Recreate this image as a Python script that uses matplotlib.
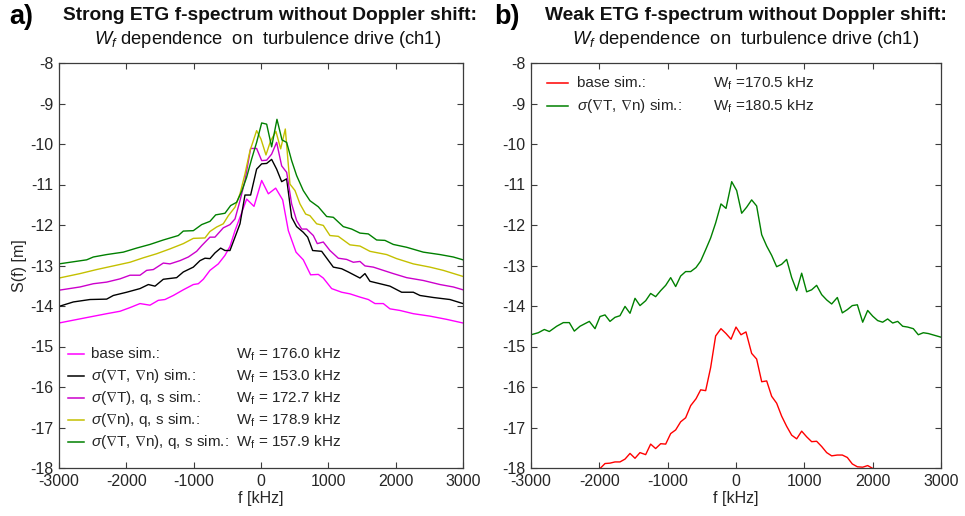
import matplotlib
matplotlib.use("Agg")
import matplotlib.pyplot as plt

plt.rcParams['font.family'] = ['Liberation Sans', 'DejaVu Sans']
plt.rcParams['mathtext.fontset'] = 'custom'
plt.rcParams['mathtext.rm'] = 'Liberation Sans'
plt.rcParams['mathtext.it'] = 'Liberation Sans:italic'
plt.rcParams['mathtext.bf'] = 'Liberation Sans:bold'
plt.rcParams['mathtext.fallback'] = 'stixsans'
plt.rcParams['axes.unicode_minus'] = False

# ---- panel a) strong ETG spectra ----
f_base = [-3000, -2787, -2540, -2292, -2094, -1946, -1797, -1649, -1525, -1426, -1302, -1154,
          -1005, -931, -857, -758, -634, -535, -461, -386, -312, -213, -104, 10, 109, 218, 322,
          406, 520, 628, 737, 851, 925, 1049, 1198, 1321, 1470, 1594, 1693, 1816, 1915, 2064,
          2262, 2509, 2757, 3000]
s_base = [-14.42, -14.35, -14.27, -14.19, -14.13, -14.04, -13.94, -13.98, -13.86, -13.84, -13.74,
          -13.60, -13.47, -13.45, -13.34, -13.12, -12.96, -12.75, -12.53, -12.14, -11.81, -11.36,
          -11.54, -10.90, -11.23, -11.09, -11.38, -12.14, -12.67, -12.86, -13.23, -13.22, -13.31,
          -13.57, -13.66, -13.70, -13.78, -13.84, -13.94, -13.94, -14.07, -14.11, -14.19, -14.25,
          -14.33, -14.42]

f_sig_tn = [-3000, -2787, -2540, -2292, -2193, -1995, -1797, -1673, -1574, -1451, -1253, -1154,
            -1005, -906, -832, -758, -684, -599, -535, -461, -386, -312, -238, -154, -65, 10, 84,
            158, 232, 307, 381, 455, 529, 628, 693, 767, 901, 1074, 1198, 1297, 1470, 1544, 1618,
            1767, 1915, 2089, 2262, 2361, 2559, 2806, 3000]
s_sig_tn = [-14.01, -13.90, -13.84, -13.83, -13.74, -13.66, -13.57, -13.47, -13.51, -13.34, -13.30,
            -13.16, -13.04, -12.88, -12.82, -12.83, -12.69, -12.57, -12.63, -12.63, -12.30, -11.97,
            -11.26, -11.26, -10.62, -10.49, -10.48, -10.38, -10.62, -10.93, -10.86, -11.81, -12.04,
            -12.18, -12.30, -12.63, -12.65, -13.04, -13.08, -13.16, -13.31, -13.20, -13.39, -13.45,
            -13.51, -13.66, -13.66, -13.74, -13.79, -13.84, -13.94]

f_sig_t_qs = [-3000, -2688, -2490, -2292, -2094, -1946, -1797, -1698, -1599, -1451, -1352, -1203,
              -1079, -956, -881, -758, -684, -560, -461, -386, -312, -238, -154, -65, 10, 84, 158,
              232, 307, 381, 455, 529, 604, 678, 777, 836, 925, 1024, 1148, 1272, 1371, 1470, 1544,
              1668, 1816, 1965, 2163, 2410, 2658, 2856, 3000]
s_sig_t_qs = [-13.61, -13.53, -13.45, -13.41, -13.33, -13.24, -13.24, -13.12, -13.10, -12.94, -12.96,
              -12.88, -12.79, -12.65, -12.51, -12.30, -12.30, -12.07, -11.99, -11.85, -11.40, -10.90,
              -10.11, -10.11, -10.41, -10.40, -10.25, -9.96, -10.54, -10.70, -11.48, -11.89, -12.10,
              -12.10, -12.26, -12.46, -12.42, -12.63, -12.82, -12.85, -12.92, -12.90, -13.01, -13.04,
              -13.12, -13.20, -13.30, -13.37, -13.47, -13.53, -13.60]

f_sig_n_qs = [-3000, -2688, -2441, -2193, -1946, -1748, -1550, -1352, -1154, -1005, -832, -758,
              -659, -560, -485, -386, -312, -238, -164, -65, 0, 74, 143, 222, 292, 361, 430, 505,
              579, 663, 727, 826, 925, 1024, 1148, 1321, 1470, 1618, 1866, 2014, 2262, 2509, 2707,
              3000]
s_sig_n_qs = [-13.31, -13.20, -13.10, -13.01, -12.92, -12.81, -12.71, -12.59, -12.46, -12.33, -12.32,
              -12.16, -12.05, -11.97, -11.77, -11.56, -11.23, -10.74, -10.17, -9.67, -9.88, -10.27,
              -9.92, -9.69, -10.12, -9.63, -10.99, -11.15, -11.48, -11.73, -11.77, -11.97, -12.01,
              -12.26, -12.28, -12.49, -12.52, -12.65, -12.73, -12.83, -12.96, -13.04, -13.12, -13.27]

f_sig_tn_qs = [-3000, -2589, -2490, -2292, -2045, -1847, -1649, -1451, -1228, -1154, -1005, -881,
               -758, -673, -535, -451, -362, -287, -213, -139, -65, 10, 84, 158, 237, 312, 381, 455,
               529, 628, 727, 851, 975, 1074, 1222, 1346, 1470, 1594, 1717, 1841, 1965, 2163, 2410,
               2658, 2856, 3000]
s_sig_tn_qs = [-12.96, -12.86, -12.79, -12.73, -12.67, -12.57, -12.48, -12.37, -12.26, -12.15, -12.14,
               -11.99, -11.91, -11.75, -11.71, -11.52, -11.44, -11.17, -10.82, -10.37, -9.96, -9.48,
               -9.51, -10.07, -9.39, -9.90, -9.96, -10.41, -10.78, -11.15, -11.40, -11.55, -11.79,
               -11.81, -12.04, -12.10, -12.20, -12.22, -12.37, -12.38, -12.48, -12.55, -12.67, -12.73,
               -12.79, -12.86]

labels_a = ["base sim.:", r"$\sigma$($\nabla$T, $\nabla$n) sim.:", r"$\sigma$($\nabla$T), q, s sim.:",
            r"$\sigma$($\nabla$n), q, s sim.:", r"$\sigma$($\nabla$T, $\nabla$n), q, s sim.:"]
wf_a = [176.0, 153.0, 172.7, 178.9, 157.9]
colors_a = ["#ff00ff", "#000000", "#cc00cc", "#c4c000", "#008000"]

# ---- panel b) weak ETG spectra ----
f_weak_base = [-2000, -1917, -1844, -1771, -1698, -1624, -1551, -1478, -1405, -1322, -1249, -1176,
               -1102, -1029, -956, -883, -810, -737, -663, -585, -517, -444, -371, -298, -220, -146,
               -73, 0, 73, 146, 229, 302, 376, 449, 522, 595, 668, 741, 815, 888, 961, 1034, 1107,
               1180, 1254, 1327, 1400, 1483, 1556, 1629, 1702, 1776, 1854, 1927, 2000]
s_weak_base = [-18.03, -17.89, -17.88, -17.85, -17.85, -17.78, -17.64, -17.76, -17.62, -17.67, -17.41,
               -17.52, -17.40, -17.41, -17.15, -17.06, -16.86, -16.76, -16.46, -16.29, -16.07, -16.09,
               -15.52, -14.74, -14.56, -14.68, -14.82, -14.52, -14.71, -14.64, -15.17, -15.31, -15.87,
               -15.85, -16.23, -16.40, -16.72, -16.97, -17.19, -17.28, -17.09, -17.23, -17.35, -17.34,
               -17.47, -17.62, -17.70, -17.68, -17.68, -17.74, -17.90, -17.97, -17.98, -17.94, -18.01]

f_weak_sig = [-3000, -2893, -2805, -2732, -2624, -2527, -2439, -2366, -2283, -2146, -2063, -1990,
              -1917, -1844, -1771, -1698, -1624, -1551, -1478, -1405, -1322, -1249, -1176, -1102,
              -1029, -956, -883, -810, -737, -663, -585, -517, -444, -371, -298, -220, -146, -63, 10,
              83, 156, 229, 302, 376, 449, 522, 595, 668, 741, 815, 888, 961, 1034, 1107, 1180, 1254,
              1327, 1400, 1483, 1556, 1629, 1702, 1776, 1854, 1927, 2000, 2073, 2146, 2219, 2293,
              2366, 2439, 2512, 2595, 2668, 2741, 2815, 3000]
s_weak_sig = [-14.71, -14.66, -14.58, -14.63, -14.50, -14.41, -14.41, -14.62, -14.50, -14.38, -14.56,
              -14.26, -14.22, -14.38, -14.28, -14.24, -14.01, -14.18, -13.81, -13.99, -13.87, -13.69,
              -13.77, -13.62, -13.49, -13.30, -13.52, -13.26, -13.15, -13.15, -13.05, -12.89, -12.61,
              -12.32, -11.95, -11.48, -11.59, -10.93, -11.15, -11.71, -11.56, -11.38, -11.53, -12.24,
              -12.52, -12.75, -13.03, -12.97, -12.85, -13.30, -13.62, -13.19, -13.65, -13.60, -13.49,
              -13.72, -13.85, -13.95, -13.79, -14.17, -14.09, -13.99, -13.97, -14.40, -14.11, -14.25,
              -14.36, -14.40, -14.32, -14.42, -14.38, -14.50, -14.52, -14.56, -14.71, -14.66, -14.68,
              -14.77]

labels_b = ["base sim.:", r"$\sigma$($\nabla$T, $\nabla$n) sim.:"]
wf_b = [170.5, 180.5]
colors_b = ["#ff0000", "#008000"]

x_ticks = [-3000, -2000, -1000, 0, 1000, 2000, 3000]
y_ticks = [-8, -9, -10, -11, -12, -13, -14, -15, -16, -17, -18]

W, H = 965, 516
fig = plt.figure(figsize=(W / 100, H / 100), dpi=100)

def px_axes(x0, y0, x1, y1):
    return fig.add_axes([x0 / W, 1 - y1 / H, (x1 - x0) / W, (y1 - y0) / H])

ax_a = px_axes(59, 63, 463, 468)
ax_b = px_axes(531, 63, 941, 468)

spine_col = "#3c3c3c"
text_col = "#262626"
for ax in (ax_a, ax_b):
    ax.set_xlim(-3000, 3000)
    ax.set_ylim(-18, -8)
    ax.set_xticks(x_ticks)
    ax.set_yticks(y_ticks)
    ax.tick_params(direction='in', length=4.5, width=0.8, top=True, right=True,
                   colors=spine_col, labelcolor=text_col, labelsize=11.5, pad=4)
    for sp in ax.spines.values():
        sp.set_color(spine_col)
        sp.set_linewidth(0.9)
    ax.set_xlabel("f [kHz]", fontsize=11.5, color=text_col, labelpad=2)

ax_a.set_ylabel("S(f) [m]", fontsize=11.5, color=text_col, labelpad=2)

series_a = [(f_base, s_base), (f_sig_tn, s_sig_tn), (f_sig_t_qs, s_sig_t_qs),
            (f_sig_n_qs, s_sig_n_qs), (f_sig_tn_qs, s_sig_tn_qs)]
for (fx, sy), c in zip(series_a, colors_a):
    ax_a.plot(fx, sy, color=c, lw=1.0, clip_on=True)

series_b = [(f_weak_base, s_weak_base), (f_weak_sig, s_weak_sig)]
for (fx, sy), c in zip(series_b, colors_b):
    ax_b.plot(fx, sy, color=c, lw=1.0, clip_on=True)

# hand-laid legends with a separate W_f column
def legend_rows(ax, labels, wfs, colors, y_rows, x_line, x_lab, x_wf, fmt):
    for lab, wf, c, yr in zip(labels, wfs, colors, y_rows):
        ax.plot(x_line, [yr, yr], color=c, lw=1.1, transform=ax.transAxes, clip_on=False)
        ax.text(x_lab, yr, lab, transform=ax.transAxes, fontsize=11, color=text_col,
                va='center', ha='left')
        ax.text(x_wf, yr, fmt % wf, transform=ax.transAxes, fontsize=11,
                color=text_col, va='center', ha='left')

legend_rows(ax_a, labels_a, wf_a, colors_a, [0.281, 0.227, 0.173, 0.119, 0.064],
            [0.022, 0.062], 0.079, 0.437, r"W$_\mathrm{f}$ = %.1f kHz")
legend_rows(ax_b, labels_b, wf_b, colors_b, [0.951, 0.894],
            [0.039, 0.090], 0.112, 0.444, r"W$_\mathrm{f}$ =%.1f kHz")

# titles and panel letters
fig.text(270 / W, 1 - 16 / H, "Strong ETG f-spectrum without Doppler shift:",
         fontsize=13.8, fontweight='bold', ha='center', va='center', color='#111111')
fig.text(268 / W, 1 - 39 / H, r"$W_f$ dependence  on  turbulence drive (ch1)",
         fontsize=13.2, ha='center', va='center', color='#111111')
fig.text(746 / W, 1 - 16 / H, "Weak ETG f-spectrum without Doppler shift:",
         fontsize=13.8, fontweight='bold', ha='center', va='center', color='#111111')
fig.text(746 / W, 1 - 39 / H, r"$W_f$ dependence  on  turbulence drive (ch1)",
         fontsize=13.2, ha='center', va='center', color='#111111')
fig.text(9 / W, 1 - 17 / H, "a)", fontsize=19.5, fontweight='bold', ha='left', va='center')
fig.text(494 / W, 1 - 17 / H, "b)", fontsize=19.5, fontweight='bold', ha='left', va='center')

fig.savefig("out.png", dpi=100)
